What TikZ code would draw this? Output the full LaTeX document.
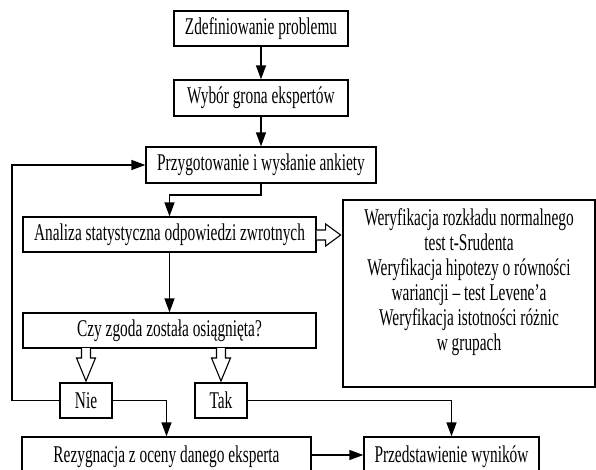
\documentclass[tikz,border=0pt]{standalone}
\usepackage{fontspec}
\setmainfont{Liberation Serif}[FakeStretch=0.64]
\usetikzlibrary{arrows.meta}
\begin{document}
\begin{tikzpicture}[x=1pt,y=-1pt,
  every node/.style={font=\fontsize{24}{25}\selectfont},
  box/.style={draw,line width=1.3pt,rectangle,inner sep=0pt,minimum height=35pt},
  arr/.style={line width=1.4pt,-{Triangle[length=14pt,width=10pt]}},
  openarr/.style={draw,line width=1.1pt,fill=white}]
\useasboundingbox (0,0) rectangle (596,470);
\node[box,minimum width=174pt] (b1) at (261,28.5) {Zdefiniowanie problemu};
\node[box,minimum width=174pt,minimum height=36pt] (b2) at (261,98) {Wybór grona ekspertów};
\node[box,minimum width=230pt,minimum height=36pt] (b3) at (261,165) {Przygotowanie i wysłanie ankiety};
\node[box,minimum width=293pt] (b4) at (169.5,234.5) {Analiza statystyczna odpowiedzi zwrotnych};
\node[box,minimum width=293pt] (b5) at (169.5,330.5) {Czy zgoda została osiągnięta?};
\node[box,minimum width=52pt] (nie) at (86,400.5) {Nie};
\node[box,minimum width=52pt] (tak) at (221,400.5) {Tak};
\node[box,minimum width=289pt,minimum height=40pt] (b6) at (166.5,457) {Rezygnacja z oceny danego eksperta};
\node[box,minimum width=175pt,minimum height=40pt] (b7) at (451.5,457) {Przedstawienie wyników};
\node[box,minimum width=252pt,minimum height=187pt] (rb) at (469,293.5) {};
\node[align=center,inner sep=0pt] (rt) at (469,282) {Weryfikacja rozkładu normalnego\\test t-Srudenta\\Weryfikacja hipotezy o równości\\wariancji -- test Levene’a\\Weryfikacja istotności różnic\\w grupach};
\coordinate (fbl) at (12,400.5);
\coordinate (bend) at (169.5,195);
\draw[arr] (b1) -- (b2);
\draw[arr] (b2) -- (b3);
\draw[arr] (b3.south) |- (bend) -- (b4.north);
\draw[arr] (b4) -- (b5);
\draw[arr] (nie.west) -- (fbl) |- (b3.west);
\draw[arr] (nie.east) -| (b6.north);
\draw[arr] (tak.east) -| (b7.north);
\draw[arr] (b6.east |- 0,455) -- (b7.west |- 0,455);
% open block arrows
\draw[openarr] (b4.east |- 0,230) -- ++(9,0) -- ++(0,-6) -- ++(15,11) -- ++(-15,11) -- ++(0,-6) -- ++(-9,0);
\draw[openarr] (81.5,348) -- ++(0,10) -- ++(-5,0) -- ++(9.5,23) -- ++(9.5,-23) -- ++(-5,0) -- ++(0,-10);
\draw[openarr] (216.5,348) -- ++(0,10) -- ++(-5,0) -- ++(9.5,23) -- ++(9.5,-23) -- ++(-5,0) -- ++(0,-10);
\end{tikzpicture}
\end{document}
